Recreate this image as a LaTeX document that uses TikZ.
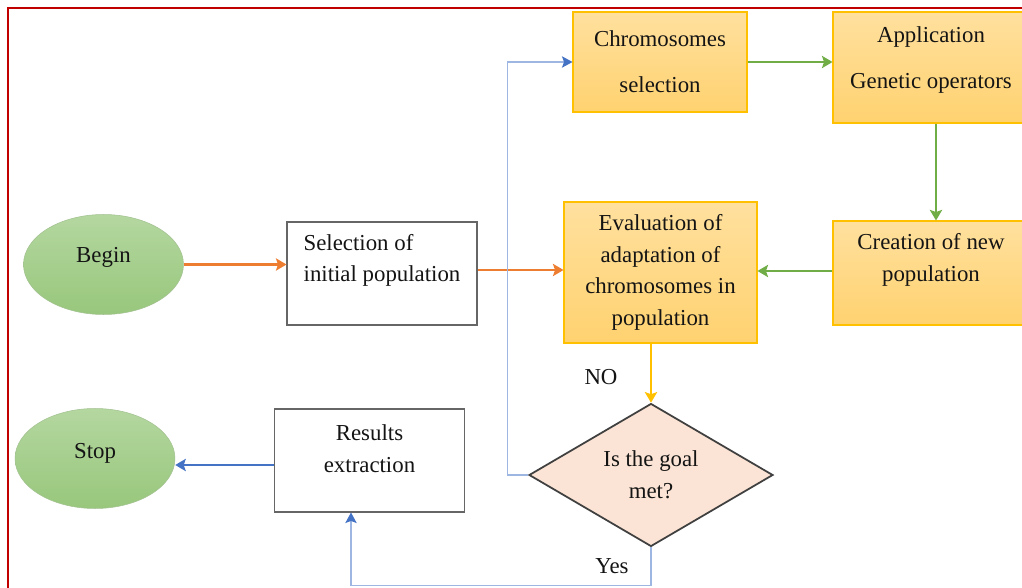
\documentclass[tikz,border=0pt]{standalone}
\usepackage{fontspec}
\setmainfont{Liberation Serif}
\usetikzlibrary{arrows.meta}
\usetikzlibrary{shapes.geometric}

\definecolor{framered}{HTML}{C00000}
\definecolor{orangeline}{HTML}{ED7D31}
\definecolor{greenline}{HTML}{70AD47}
\definecolor{goldline}{HTML}{FFC000}
\definecolor{blueline}{HTML}{4472C4}
\definecolor{lightblue}{HTML}{9DB6E2}
\definecolor{goldtop}{HTML}{FFE09E}
\definecolor{goldbottom}{HTML}{FFD270}
\definecolor{greentop}{HTML}{B4D7A0}
\definecolor{greenbottom}{HTML}{98C77C}
\definecolor{peach}{HTML}{FBE4D5}

\tikzset{
  every node/.style={font=\fontsize{13}{18}\selectfont, text=black!92},
  terminal/.style={ellipse, draw=greentop!90!black, line width=0.3pt, top color=greentop, bottom color=greenbottom, minimum width=3.2cm, minimum height=2cm, inner sep=0pt},
  plainbox/.style={rectangle, draw=black!60, line width=0.6pt, fill=white, minimum width=3.8cm, minimum height=2.06cm, inner sep=0pt},
  goldbox/.style={rectangle, draw=goldline, line width=0.6pt, top color=goldtop, bottom color=goldbottom, align=center, inner sep=0pt},
  decision/.style={diamond, draw=black!75, line width=1pt, fill=peach, minimum width=4.88cm, minimum height=2.84cm, inner sep=0pt, align=center},
  flow/.style={line width=1.7pt, -{Stealth[length=6pt,width=7pt,inset=1.2pt]}},
  backflow/.style={draw=lightblue, line width=0.6pt, -{Stealth[length=6pt,width=6.5pt,inset=1.2pt,color=blueline]}}
}

\begin{document}
\begin{tikzpicture}[x=0.02cm, y=-0.02cm]
  \useasboundingbox (0,0) rectangle (1022,588);
  \clip (0,0) rectangle (1022,588);
  % frame
  \draw[framered, line width=1pt] (8,8) rectangle (1040,600);

  % start and end
  \node[terminal, text depth=11pt] (begin) at (103.5,264.5) {Begin};
  \node[terminal, text depth=9pt] (stop) at (95,458.5) {Stop};

  % first column
  \node[plainbox, align=left, text depth=17.5pt] (init) at (382,273.5) {Selection of\\initial population};
  \node[plainbox, align=center, text depth=13.5pt] (result) at (369.5,460.5) {Results\\extraction};

  % genetic loop
  \node[goldbox, minimum width=3.48cm, minimum height=2cm] (chrom) at (660,62) {Chromosomes\\[8pt]selection};
  \node[goldbox, minimum width=3.92cm, minimum height=2.22cm, text depth=11pt] (oper) at (931,67.5) {Application\\[8pt]Genetic operators};
  \node[goldbox, minimum width=3.92cm, minimum height=2.08cm, text depth=17.5pt] (newpop) at (931,273) {Creation of new\\population};
  \node[goldbox, minimum width=3.86cm, minimum height=2.82cm] (eval) at (660.5,272.5) {Evaluation of\\adaptation of\\chromosomes in\\population};

  % test
  \node[decision] (goal) at (651,475) {Is the goal\\met?};
  \node (no) at (601,377) {NO};
  \node (yes) at (612,566) {Yes};

  % arrows
  \draw[flow, orangeline] (begin.east) -- (begin.east -| init.west);
  \draw[flow, orangeline] (init.east |- 0,270) -- (eval.west |- 0,270);
  \draw[flow, greenline] (chrom.east) -- (chrom.east -| oper.west);
  \draw[flow, greenline] (oper.south -| 936,0) -- (newpop.north -| 936,0);
  \draw[flow, greenline] (newpop.west |- 0,271) -- (eval.east |- 0,271);
  \draw[flow, goldline] (goal.north |- eval.south) -- (goal.north);
  \draw[backflow] (goal.west) -- ++(-21,0) |- (chrom.west);
  \draw[backflow] (goal.south) -- ++(0,38) -| (result.south -| 351,0);
  \draw[flow, blueline] (result.west |- 0,465) -- (stop.east |- 0,465);
\end{tikzpicture}
\end{document}
